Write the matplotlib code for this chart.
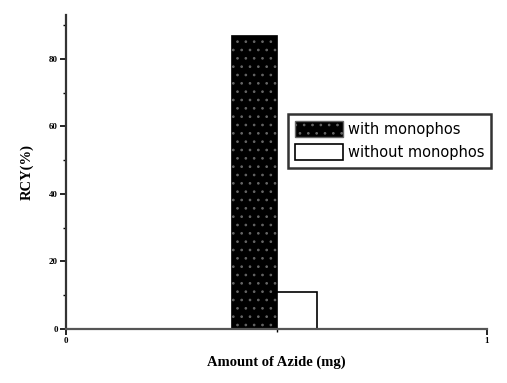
import matplotlib
matplotlib.use("Agg")
import matplotlib.pyplot as plt
from matplotlib.patches import Patch

categories = [0.5]
with_monophos = [87]
without_monophos = [11]
series_labels = ["with monophos", "without monophos"]
x_ticks = [0, 1]
x_ticklabels = ["0", "1"]
y_ticks = [0, 20, 40, 60, 80]
y_minor = [10, 30, 50, 70, 90]

plt.rcParams['hatch.linewidth'] = 0.7

fig = plt.figure(figsize=(5.07, 3.83), dpi=100)
ax = fig.add_axes([66/507, 54/383, 421/507, 314/383])

w = 0.107
ax.bar(categories, with_monophos, width=-w, align='edge', color='black',
       edgecolor='black', linewidth=0.5, zorder=2)
ax.bar(categories, with_monophos, width=-w, align='edge', facecolor='none',
       edgecolor='#666666', hatch='..', linewidth=0, zorder=3)
ax.bar(categories, without_monophos, width=w * 0.9, align='edge', color='white',
       edgecolor='black', linewidth=1.2, zorder=2)

ax.set_xlim(0, 1)
ax.set_ylim(0, 93)
ax.set_xticks(x_ticks)
ax.set_xticklabels(x_ticklabels)
ax.set_xticks([0.5], minor=True)
ax.set_yticks(y_ticks)
ax.set_yticks(y_minor, minor=True)
ax.tick_params(axis='both', which='major', direction='out', length=4, width=1.2,
               labelsize=6.5, pad=2)
ax.tick_params(axis='both', which='minor', direction='out', length=2.5, width=1)
for lab in ax.get_xticklabels() + ax.get_yticklabels():
    lab.set_fontfamily('Liberation Serif')
    lab.set_fontweight('bold')

ax.spines['top'].set_visible(False)
ax.spines['right'].set_visible(False)
ax.spines['left'].set_linewidth(1.6)
ax.spines['left'].set_color('#333333')
ax.spines['bottom'].set_linewidth(1.6)
ax.spines['bottom'].set_color('#555555')
ax.spines['bottom'].set_zorder(4)

ax.set_ylabel("RCY(%)", fontfamily='Liberation Serif', fontweight='bold',
              fontsize=10.5, labelpad=11)
ax.set_xlabel("Amount of Azide (mg)", fontfamily='Liberation Serif',
              fontweight='bold', fontsize=10.5, labelpad=7)

handles = [Patch(facecolor='black', edgecolor='#666666', hatch='..', label=series_labels[0]),
           Patch(facecolor='white', edgecolor='black', linewidth=1.2, label=series_labels[1])]
leg = ax.legend(handles=handles, loc='upper left', bbox_to_anchor=(0.527, 0.685),
                frameon=True, fancybox=False, handlelength=3.3,
                handleheight=1.3, handletextpad=0.3, borderpad=0.5,
                labelspacing=0.5, borderaxespad=0,
                prop={'family': 'DejaVu Sans', 'size': 10.5})
leg.get_frame().set_edgecolor('black')
leg.get_frame().set_linewidth(1.8)

fig.savefig("out.png", dpi=100)
